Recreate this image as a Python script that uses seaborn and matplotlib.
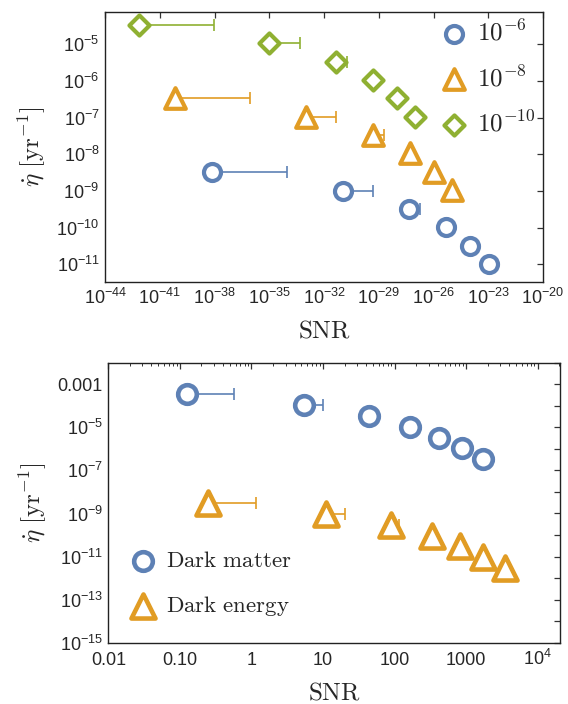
import numpy as np
import pandas as pd
import matplotlib
matplotlib.use("Agg")
import matplotlib.pyplot as plt
import matplotlib.ticker as mticker
import seaborn as sns

sns.set_theme(style="white")
plt.rcParams['font.family'] = ['Liberation Sans', 'DejaVu Sans']
plt.rcParams['mathtext.fontset'] = 'custom'
plt.rcParams['mathtext.rm'] = 'Liberation Sans'
plt.rcParams['mathtext.it'] = 'Liberation Sans:italic'
plt.rcParams['mathtext.bf'] = 'Liberation Sans:bold'

BLUE = '#5E81B5'
ORANGE = '#E19C24'
GREEN = '#8FB032'

# ---------------- top panel data (log10 values) ----------------
top_labels = [r'$10^{-6}$', r'$10^{-8}$', r'$10^{-10}$']
top_snr_e6 = [-38.15, -30.98, -27.34, -25.31, -23.98, -22.97]
top_eta_e6 = [-8.49, -8.99, -9.49, -9.99, -10.49, -10.99]
top_snr_up_e6 = [-34.03, -29.32, -26.72]
top_snr_e8 = [-40.16, -32.97, -29.34, -27.31, -25.99, -24.98]
top_eta_e8 = [-6.47, -6.97, -7.47, -7.97, -8.47, -8.97]
top_snr_up_e8 = [-36.05, -31.33, -28.73]
top_snr_e10 = [-42.13, -34.99, -31.37, -29.32, -28.0, -27.0]
top_eta_e10 = [-4.47, -4.97, -5.47, -5.97, -6.47, -6.97]
top_snr_up_e10 = [-38.02, -33.34, -30.74]

# ---------------- bottom panel data ----------------
bot_labels = ['Dark matter', 'Dark energy']
dm_snr = [0.124, 5.4, 43.6, 166, 414, 870, 1740]
dm_eta = [-3.47, -3.96, -4.47, -4.97, -5.48, -5.98, -6.47]
dm_snr_up = [0.57, 10.0]
de_snr = [0.248, 11.1, 89, 332, 822, 1740, 3520]
de_eta = [-8.53, -9.03, -9.53, -10.03, -10.53, -11.03, -11.53]
de_snr_up = [1.14, 20.0, 117]

fig = plt.figure(figsize=(5.68, 7.04), dpi=100)
ax1 = fig.add_axes([0.185, 0.5994, 0.771, 0.3835])
ax2 = fig.add_axes([0.1907, 0.0871, 0.795, 0.3977])

def draw(ax, x, y, xup, color, marker, s, label, lw=2.8):
    x = np.asarray(x, float); y = np.asarray(y, float)
    n = len(xup)
    xs = x[:n]; ys = y[:n]
    ax.errorbar(xs, ys, xerr=[np.zeros(n), np.asarray(xup) - xs], fmt='none',
                ecolor=color, elinewidth=1.2, capsize=4, capthick=1.2, zorder=2)
    df = pd.DataFrame({'x': x, 'y': y})
    sns.scatterplot(data=df, x='x', y='y', ax=ax, marker=marker, s=s,
                    facecolor='white', edgecolor=color, linewidth=lw,
                    label=label, zorder=3)

# top panel: plotted in log space with custom ticks
draw(ax1, top_snr_e6, top_eta_e6, top_snr_up_e6, BLUE, 'o', 150, top_labels[0], 3.0)
draw(ax1, top_snr_e8, top_eta_e8, top_snr_up_e8, ORANGE, '^', 220, top_labels[1], 3.0)
draw(ax1, top_snr_e10, top_eta_e10, top_snr_up_e10, GREEN, 'D', 105, top_labels[2], 3.0)
ax1.set_xlim(-44, -20)
ax1.set_ylim(-11.48, -4.12)
ax1.set_xticks(np.arange(-44, -19, 3))
ax1.set_yticks(np.arange(-11, -4, 1))
ax1.xaxis.set_major_formatter(mticker.FuncFormatter(lambda v, p: r'$10^{%d}$' % round(v)))
ax1.yaxis.set_major_formatter(mticker.FuncFormatter(lambda v, p: r'$10^{%d}$' % round(v)))

# bottom panel
dm_x = np.array(dm_snr, float); de_x = np.array(de_snr, float)
dm_df = pd.DataFrame({'x': dm_x, 'y': 10.0 ** np.array(dm_eta)})
de_df = pd.DataFrame({'x': de_x, 'y': 10.0 ** np.array(de_eta)})
ax2.set_xscale('log'); ax2.set_yscale('log')
for df, up, color, marker, s, lab in [(dm_df, dm_snr_up, BLUE, 'o', 180, bot_labels[0]),
                                      (de_df, de_snr_up, ORANGE, '^', 300, bot_labels[1])]:
    n = len(up)
    ax2.errorbar(df['x'][:n], df['y'][:n], xerr=[np.zeros(n), np.asarray(up) - df['x'][:n].values],
                 fmt='none', ecolor=color, elinewidth=1.2, capsize=4, capthick=1.2, zorder=2)
    sns.scatterplot(data=df, x='x', y='y', ax=ax2, marker=marker, s=s,
                    facecolor='white', edgecolor=color, linewidth=3.3, label=lab, zorder=3)
ax2.set_xlim(0.01, 10 ** 4.31)
ax2.set_ylim(1e-15, 1e-2)
ax2.xaxis.set_major_locator(mticker.LogLocator(base=10, numticks=20))
ax2.xaxis.set_minor_locator(mticker.LogLocator(base=10, subs=np.arange(2, 10), numticks=20))
xl = {0.01: '0.01', 0.1: '0.10', 1: '1', 10: '10', 100: '100', 1000: '1000', 1e4: r'$10^{4}$'}
def xfmt(v, p):
    for k, s in xl.items():
        if abs(np.log10(v) - np.log10(k)) < 1e-6:
            return s
    return ''
ax2.xaxis.set_major_formatter(mticker.FuncFormatter(xfmt))
ax2.set_yticks(10.0 ** np.arange(-15, -1))
ax2.yaxis.set_minor_locator(mticker.NullLocator())
def yfmt(v, p):
    e = int(round(np.log10(v)))
    if e % 2 == 0:
        return ''
    if e == -3:
        return '0.001'
    return r'$10^{%d}$' % e
ax2.yaxis.set_major_formatter(mticker.FuncFormatter(yfmt))

for ax in (ax1, ax2):
    ax.tick_params(which='both', direction='in', top=True, right=True,
                   labelsize=13, color='#333333', pad=4)
    ax.tick_params(which='major', length=4.5, width=0.9)
    ax.tick_params(which='minor', length=2.5, width=0.7)
    for sp in ax.spines.values():
        sp.set_color('#222222'); sp.set_linewidth(1.0)
    ax.set_xlabel(r'$\mathrm{SNR}$', fontsize=18, labelpad=8)
    ax.xaxis.label.set_math_fontfamily('cm')
    ax.set_ylabel(r'$\dot{\eta}\ [\mathrm{yr}^{-1}]$', fontsize=18, labelpad=6)
    ax.yaxis.label.set_math_fontfamily('cm')

leg1 = ax1.legend(loc='upper right', bbox_to_anchor=(1.035, 1.055), frameon=False,
                  fontsize=18, labelspacing=0.8, handlelength=1.2, handletextpad=0.35)
for t in leg1.get_texts():
    t.set_math_fontfamily('cm')
leg2 = ax2.legend(loc='lower left', bbox_to_anchor=(0.0, 0.015), frameon=False,
                  fontsize=16.5, labelspacing=0.95, handlelength=1.2, handletextpad=0.4)
for t in leg2.get_texts():
    t.set_text(r'$\mathrm{%s}$' % t.get_text().replace(' ', r'\ '))
    t.set_math_fontfamily('cm')

# baseline-align bottom x tick labels so 10^4 sits like the others
fig.canvas.draw()
ax2.tick_params(axis='x', which='major', pad=16)
for tk in ax2.xaxis.get_major_ticks():
    tk.label1.set_verticalalignment('baseline')

fig.savefig('out.png', dpi=100)
